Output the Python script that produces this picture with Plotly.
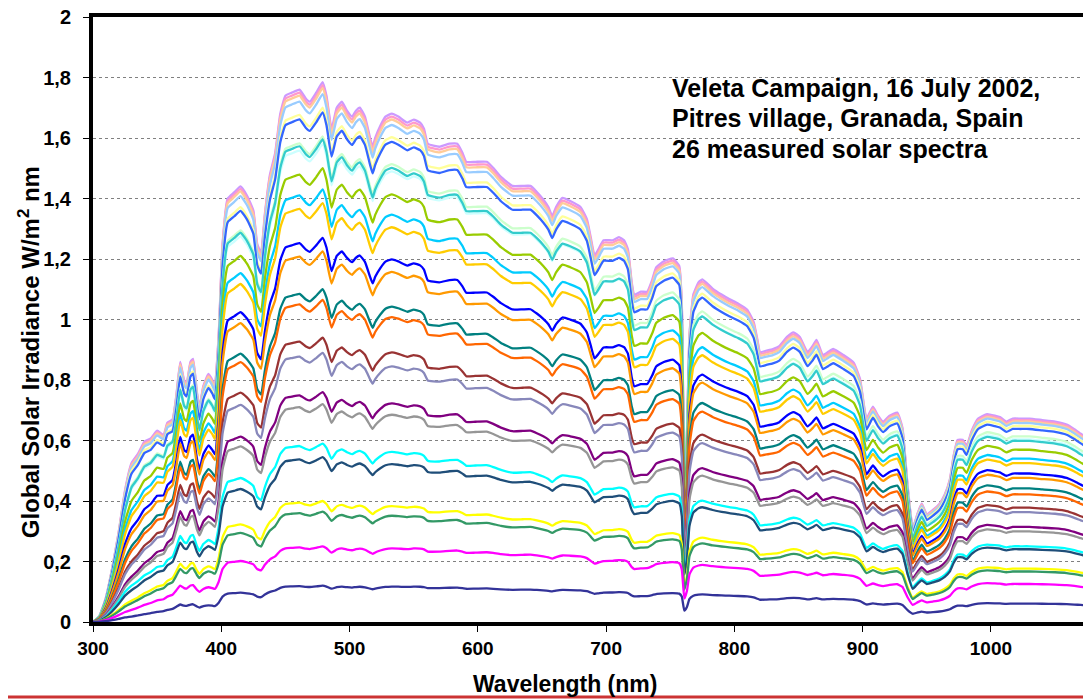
import numpy as np
import plotly.graph_objects as go

# Wavelength grid (nm) and the uppermost measured spectrum
wavelength = [300, 305, 310, 315, 320, 325, 330, 335, 340, 345, 350, 355, 358, 362, 365, 368, 371, 373, 376, 378,
              381, 383, 386, 390, 393, 395, 398, 401, 405, 410, 415, 420, 425, 428, 431, 434, 438, 442, 446, 450,
              455, 461, 466, 469, 474, 479, 482, 486, 490, 494, 498, 502, 505, 508, 512, 516, 518, 520, 524, 528,
              533, 538, 545, 550, 555, 558, 561, 570, 578, 584, 588, 591, 598, 607, 612, 618, 627, 635, 641, 646,
              651, 655, 658, 661, 666, 672, 680, 685, 688, 691, 694, 698, 705, 710, 714, 717, 720, 722, 727, 732,
              736, 739, 745, 752, 757, 759, 761, 763, 765, 768, 772, 775, 783, 790, 796, 803, 810, 815, 818, 820,
              825, 830, 835, 841, 846, 851, 857, 861, 864, 869, 873, 877, 885, 893, 898, 903, 908, 912, 916, 921,
              927, 931, 935, 939, 943, 946, 950, 955, 960, 964, 968, 971, 974, 978, 981, 985, 990, 997, 1003, 1007,
              1012, 1017, 1023, 1030, 1040, 1050, 1059, 1065, 1070, 1077, 1080]
top_spectrum = [0.0, 0.02, 0.08, 0.18, 0.30, 0.44, 0.53, 0.56, 0.60, 0.61, 0.635, 0.62, 0.66, 0.67, 0.75, 0.86, 0.80, 0.79, 0.86, 0.87,
                0.76, 0.71, 0.78, 0.82, 0.80, 0.78, 0.95, 1.25, 1.40, 1.42, 1.44, 1.41, 1.36, 1.25, 1.22, 1.35, 1.48, 1.55, 1.68, 1.74,
                1.75, 1.76, 1.73, 1.72, 1.75, 1.785, 1.74, 1.63, 1.70, 1.72, 1.69, 1.67, 1.69, 1.70, 1.67, 1.60, 1.57, 1.60, 1.64, 1.67,
                1.68, 1.67, 1.65, 1.66, 1.65, 1.63, 1.58, 1.57, 1.58, 1.58, 1.55, 1.52, 1.52, 1.52, 1.50, 1.47, 1.44, 1.44, 1.44, 1.42,
                1.395, 1.37, 1.34, 1.37, 1.40, 1.39, 1.37, 1.33, 1.27, 1.21, 1.23, 1.26, 1.26, 1.27, 1.26, 1.23, 1.12, 1.08, 1.09, 1.09,
                1.13, 1.17, 1.19, 1.20, 1.175, 1.05, 0.47, 0.62, 0.95, 1.08, 1.12, 1.13, 1.10, 1.08, 1.065, 1.05, 1.03, 0.99, 0.93, 0.89,
                0.895, 0.90, 0.91, 0.94, 0.955, 0.94, 0.89, 0.91, 0.93, 0.88, 0.89, 0.90, 0.88, 0.855, 0.80, 0.67, 0.71, 0.68, 0.66, 0.68,
                0.69, 0.64, 0.45, 0.31, 0.36, 0.39, 0.355, 0.37, 0.39, 0.42, 0.47, 0.55, 0.60, 0.60, 0.58, 0.63, 0.67, 0.685, 0.68, 0.675,
                0.66, 0.67, 0.67, 0.67, 0.665, 0.66, 0.65, 0.635, 0.62, 0.60, 0.59]

# Per-spectrum levels read at 330 nm, at the 480 nm peak and at 1000 nm (top to bottom)
level_330 = [0.525, 0.52, 0.515, 0.51, 0.50, 0.49, 0.45, 0.44, 0.445, 0.40, 0.37, 0.35, 0.31,
             0.29, 0.25, 0.235, 0.20, 0.19, 0.15, 0.14, 0.12, 0.105, 0.07, 0.062, 0.04, 0.018]
level_480 = [1.785, 1.775, 1.765, 1.745, 1.70, 1.685, 1.605, 1.58, 1.595, 1.50, 1.43, 1.385, 1.27,
             1.225, 1.10, 1.065, 0.94, 0.89, 0.76, 0.72, 0.59, 0.545, 0.40, 0.365, 0.25, 0.12]
level_1000 = [0.685, 0.68, 0.675, 0.67, 0.66, 0.65, 0.625, 0.615, 0.61, 0.58, 0.55, 0.535, 0.50,
              0.485, 0.45, 0.43, 0.385, 0.37, 0.32, 0.305, 0.255, 0.245, 0.18, 0.17, 0.128, 0.062]
series_colors = ["#CC99FF", "#FF99CC", "#FFCC99", "#99CCFF", "#FFFF99", "#3366FF", "#CCFFCC", "#CCFFFF",
                 "#33CCCC", "#99CC00", "#00CCFF", "#FFCC00", "#0000FF", "#FF9900", "#008080", "#FF6600",
                 "#993333", "#8888BB", "#800080", "#969696", "#00FFFF", "#1F4E79", "#FFFF00", "#339966",
                 "#FF00FF", "#333399"]

y_tickvals = [0, 0.2, 0.4, 0.6, 0.8, 1, 1.2, 1.4, 1.6, 1.8, 2]
y_ticktext = ["0", "0,2", "0,4", "0,6", "0,8", "1", "1,2", "1,4", "1,6", "1,8", "2"]
x_tickvals = [300, 400, 500, 600, 700, 800, 900, 1000]

x_title = "Wavelength (nm)"
y_title = "Global Solar Irradiance W/m<sup>2</sup> nm"
info_lines = ["Veleta Campaign, 16 July 2002,", "Pitres village, Granada, Spain", "26 measured solar spectra"]

wl = np.array(wavelength, dtype=float)
top = np.array(top_spectrum, dtype=float)
t330 = np.interp(330, wl, top)
t480 = max(top_spectrum)
t1000 = np.interp(1000, wl, top)

FONT = "Liberation Sans, Arial, sans-serif"
fig = go.Figure()
for i in range(len(series_colors)):
    r_uv = level_330[i] / t330
    r_vis = level_480[i] / t480
    r_ir = level_1000[i] / t1000
    ratio = np.interp(wl, [300, 330, 365, 480, 1000, 1100], [r_uv, r_uv, r_vis, r_vis, r_ir, r_ir])
    fig.add_trace(go.Scatter(x=wl, y=top * ratio, mode="lines",
                             line=dict(color=series_colors[i], width=2.3, shape="spline", smoothing=0.4),
                             showlegend=False, hoverinfo="skip"))

for k, txt in enumerate(info_lines):
    fig.add_annotation(x=0.578, y=[0.883, 0.833, 0.782][k], xref="paper", yref="paper",
                       text=txt, showarrow=False, xanchor="left", yanchor="middle",
                       font=dict(family=FONT, size=25, color="black", weight="bold"))

# axis titles
fig.add_annotation(x=0.473, y=-0.1025, xref="paper", yref="paper", text=x_title, showarrow=False,
                   xanchor="center", yanchor="middle",
                   font=dict(family=FONT, size=23, color="black", weight="bold"))
fig.add_annotation(x=-0.0641, y=0.446, xref="paper", yref="paper", text=y_title, showarrow=False,
                   textangle=-90, xanchor="center", yanchor="middle",
                   font=dict(family=FONT, size=24, color="black", weight="bold"))

fig.add_shape(type="line", xref="paper", yref="paper", x0=-0.09, x1=1.0, y0=-0.124, y1=-0.124,
              line=dict(color="#CC3333", width=3))

fig.update_layout(
    width=1083, height=692,
    margin=dict(l=85, r=0, t=9, b=78),
    paper_bgcolor="white", plot_bgcolor="white",
    font=dict(family=FONT, color="black"),
    xaxis=dict(range=[300, 1078], tickvals=x_tickvals, ticks="outside", ticklen=6, tickwidth=1,
               tickcolor="black", showline=True, linecolor="black", linewidth=4, mirror=True,
               showgrid=False, zeroline=False, automargin=False, ticklabelstandoff=0,
               ticklabeloverflow="allow",
               tickfont=dict(size=19, family=FONT, weight="bold")),
    yaxis=dict(range=[0, 2], tickvals=y_tickvals, ticktext=y_ticktext,
               ticks="outside", ticklen=6, tickwidth=1, tickcolor="black",
               showline=True, linecolor="black", linewidth=4, mirror=False, automargin=False,
               showgrid=True, gridcolor="#808080", gridwidth=1, griddash="dot", zeroline=False,
               ticklabelstandoff=8, ticklabeloverflow="allow",
               tickfont=dict(size=20, family=FONT, weight="bold")),
)

fig.write_html("out.html")
